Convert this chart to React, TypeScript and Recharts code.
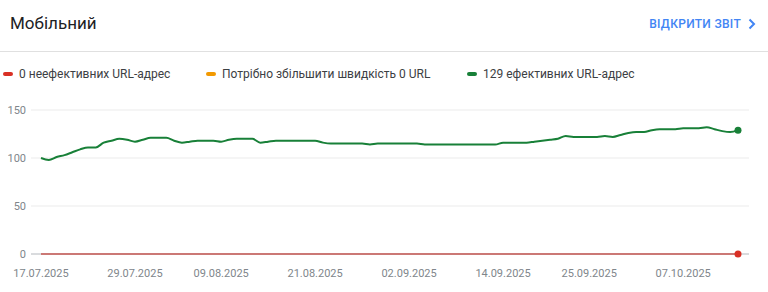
import { LineChart, Line, XAxis, YAxis, CartesianGrid } from 'recharts'

// daily dates, 17.07.2025 – 14.10.2025
const startDate = new Date(2025, 6, 17)
const dayCount = 90
const dates: string[] = []
for (let i = 0; i < dayCount; i++) {
    const d = new Date(startDate)
    d.setDate(startDate.getDate() + i)
    const dd = String(d.getDate()).padStart(2, '0')
    const mm = String(d.getMonth() + 1).padStart(2, '0')
    dates.push(`${dd}.${mm}.${d.getFullYear()}`)
}

const goodUrls = [
    100, 98, 101, 103, 106, 109, 111, 111, 116, 118,
    120, 119, 117, 119, 121, 121, 121, 118, 116, 117,
    118, 118, 118, 117, 119, 120, 120, 120, 116, 117,
    118, 118, 118, 118, 118, 118, 116, 115, 115, 115,
    115, 115, 114, 115, 115, 115, 115, 115, 115, 114,
    114, 114, 114, 114, 114, 114, 114, 114, 114, 116,
    116, 116, 116, 117, 118, 119, 120, 123, 122, 122,
    122, 122, 123, 122, 124, 126, 127, 127, 129, 130,
    130, 130, 131, 131, 131, 132, 130, 128, 127, 129,
]
const poorUrls = dates.map(() => 0)
const needsImprovementUrls = dates.map(() => 0)

const xTicks = ['17.07.2025', '29.07.2025', '09.08.2025', '21.08.2025', '02.09.2025', '14.09.2025', '25.09.2025', '07.10.2025']
const yTicks = [0, 50, 100, 150]

const legendItems = [
    { label: '0 неефективних URL-адрес', color: '#d93025', left: 3 },
    { label: 'Потрібно збільшити швидкість 0 URL', color: '#f29900', left: 206 },
    { label: '129 ефективних URL-адрес', color: '#188038', left: 467 },
]

const data = dates.map((date, i) => ({
    date,
    good: goodUrls[i],
    poor: poorUrls[i],
    needs: needsImprovementUrls[i],
}))

const lastDot = (color: string) => (props: any) => {
    const { cx, cy, index } = props
    if (index !== data.length - 1) return <g key={`dot-${index}`} />
    return <circle key={`dot-${index}`} cx={cx} cy={cy} r={3.5} fill={color} stroke="none" />
}

export default function App() {
    return (
        <div style={{ position: 'relative', width: 768, height: 292, fontFamily: 'Roboto, sans-serif', background: '#fff', overflow: 'hidden' }}>
            <style>{'body{margin:0}'}</style>
            <div style={{ position: 'absolute', left: 10, top: 12, fontSize: 17, lineHeight: '22px', color: '#202124' }}>
                Мобільний
            </div>
            <div style={{ position: 'absolute', right: 12, top: 16, fontSize: 12, fontWeight: 500, letterSpacing: 0.3, lineHeight: '16px', color: '#4285f4', display: 'flex', alignItems: 'center' }}>
                ВІДКРИТИ ЗВІТ
                <svg width="8" height="12" viewBox="0 0 8 12" style={{ marginLeft: 7 }}>
                    <path d="M1.5 1.5 L6 6 L1.5 10.5" fill="none" stroke="#4285f4" strokeWidth="2" />
                </svg>
            </div>
            <div style={{ position: 'absolute', left: 0, right: 0, top: 51, height: 1, background: '#e0e0e0' }} />

            {legendItems.map((item) => (
                <div key={item.label} style={{ position: 'absolute', left: item.left, top: 66, display: 'flex', alignItems: 'center', fontSize: 12, lineHeight: '16px', color: '#3c4043' }}>
                    <span style={{ width: 10, height: 4, borderRadius: 2, background: item.color, marginRight: 6 }} />
                    {item.label}
                </div>
            ))}

            <div style={{ position: 'absolute', left: 0, top: 0 }}>
                <LineChart width={768} height={292} data={data} margin={{ top: 110, right: 19, bottom: 0, left: 0 }}>
                    <CartesianGrid vertical={false} stroke="#ebebeb" strokeWidth={1} />
                    <XAxis
                        dataKey="date"
                        ticks={xTicks}
                        interval={0}
                        height={38}
                        padding={{ left: 10, right: 11 }}
                        axisLine={{ stroke: '#bdc1c6' }}
                        tickLine={false}
                        tickSize={6}
                        tickMargin={9}
                        tick={{ fontSize: 11, fill: '#80868b' }}
                    />
                    <YAxis
                        domain={[0, 150]}
                        ticks={yTicks}
                        width={31}
                        axisLine={false}
                        tickLine={false}
                        tickSize={5}
                        tickMargin={0}
                        tick={{ fontSize: 11, fill: '#80868b' }}
                    />
                    <Line type="monotone" dataKey="good" stroke="#188038" strokeWidth={2} dot={lastDot('#188038')} activeDot={false} isAnimationActive={false} />
                    <Line type="monotone" dataKey="needs" stroke="#f29900" strokeWidth={2} dot={false} activeDot={false} isAnimationActive={false} />
                    <Line type="monotone" dataKey="poor" stroke="#d93025" strokeWidth={2} dot={lastDot('#d93025')} activeDot={false} isAnimationActive={false} />
                </LineChart>
            </div>
        </div>
    )
}
